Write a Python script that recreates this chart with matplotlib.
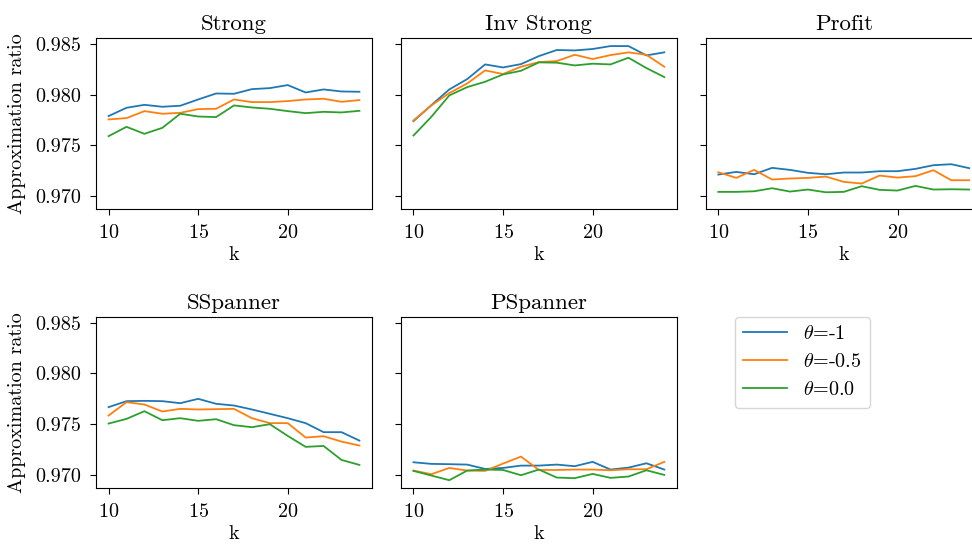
import numpy as np
import matplotlib
matplotlib.use('Agg')
import matplotlib.pyplot as plt

plt.rcParams['font.family'] = 'serif'
plt.rcParams['font.serif'] = ['cmr10']
plt.rcParams['mathtext.fontset'] = 'cm'
plt.rcParams['axes.formatter.use_mathtext'] = True
plt.rcParams['font.size'] = 14.5
plt.rcParams['xtick.major.pad'] = 6.5
plt.rcParams['ytick.major.pad'] = 6.5
plt.rcParams['xtick.major.size'] = 4
plt.rcParams['ytick.major.size'] = 4

k = list(range(10, 25))
thetas = ['-1', '-0.5', '0.0']
colors = ['#1f77b4', '#ff7f0e', '#2ca02c']
titles = ['Strong', 'Inv Strong', 'Profit', 'SSpanner', 'PSpanner']

# one list per theta (-1, -0.5, 0.0)
strong = [
    [0.97789, 0.97871, 0.97900, 0.97881, 0.97891, 0.97953, 0.98012, 0.98009,
     0.98055, 0.98065, 0.98095, 0.98022, 0.98052, 0.98032, 0.98029],
    [0.97756, 0.97769, 0.97838, 0.97812, 0.97821, 0.97858, 0.97861, 0.97953,
     0.97927, 0.97927, 0.97937, 0.97953, 0.97960, 0.97930, 0.97947],
    [0.97591, 0.97683, 0.97614, 0.97673, 0.97812, 0.97785, 0.97779, 0.97894,
     0.97874, 0.97861, 0.97838, 0.97818, 0.97831, 0.97825, 0.97841],
]
inv_strong = [
    [0.97739, 0.97897, 0.98052, 0.98154, 0.98299, 0.98269, 0.98302, 0.98381,
     0.98441, 0.98437, 0.98451, 0.98480, 0.98480, 0.98388, 0.98418],
    [0.97746, 0.97894, 0.98016, 0.98111, 0.98240, 0.98204, 0.98276, 0.98322,
     0.98332, 0.98394, 0.98352, 0.98391, 0.98418, 0.98394, 0.98276],
    [0.97597, 0.97782, 0.97993, 0.98075, 0.98128, 0.98200, 0.98236, 0.98319,
     0.98316, 0.98289, 0.98306, 0.98299, 0.98365, 0.98263, 0.98174],
]
profit = [
    [0.97212, 0.97238, 0.97215, 0.97278, 0.97258, 0.97229, 0.97215, 0.97232,
     0.97232, 0.97245, 0.97245, 0.97268, 0.97304, 0.97314, 0.97275],
    [0.97235, 0.97179, 0.97258, 0.97163, 0.97173, 0.97179, 0.97192, 0.97140,
     0.97123, 0.97202, 0.97182, 0.97196, 0.97255, 0.97156, 0.97156],
    [0.97041, 0.97041, 0.97047, 0.97077, 0.97044, 0.97064, 0.97037, 0.97041,
     0.97097, 0.97061, 0.97054, 0.97100, 0.97064, 0.97067, 0.97064],
]
sspanner = [
    [0.97667, 0.97726, 0.97729, 0.97726, 0.97706, 0.97749, 0.97700, 0.97683,
     0.97644, 0.97601, 0.97558, 0.97509, 0.97420, 0.97420, 0.97337],
    [0.97584, 0.97716, 0.97693, 0.97624, 0.97650, 0.97644, 0.97647, 0.97650,
     0.97558, 0.97509, 0.97509, 0.97367, 0.97380, 0.97327, 0.97288],
    [0.97505, 0.97551, 0.97627, 0.97538, 0.97558, 0.97532, 0.97548, 0.97489,
     0.97469, 0.97499, 0.97383, 0.97275, 0.97284, 0.97146, 0.97097],
]
pspanner = [
    [0.97123, 0.97107, 0.97104, 0.97100, 0.97057, 0.97067, 0.97090, 0.97090,
     0.97100, 0.97084, 0.97127, 0.97051, 0.97070, 0.97113, 0.97051],
    [0.97041, 0.97005, 0.97067, 0.97041, 0.97038, 0.97110, 0.97179, 0.97047,
     0.97047, 0.97051, 0.97051, 0.97044, 0.97054, 0.97054, 0.97127],
    [0.97038, 0.96992, 0.96946, 0.97041, 0.97051, 0.97047, 0.96995, 0.97051,
     0.96972, 0.96966, 0.97008, 0.96969, 0.96982, 0.97044, 0.96998],
]

datasets = [strong, inv_strong, profit, sspanner, pspanner]

fig, axes = plt.subplots(2, 3, figsize=(9.72, 5.44), dpi=100, sharey=True)
plt.subplots_adjust(left=0.0988, right=1.01, top=0.9296, bottom=0.103,
                    wspace=0.105, hspace=0.63)

flat = axes.flatten()
for i, (title, data) in enumerate(zip(titles, datasets)):
    ax = flat[i]
    for series, th, c in zip(data, thetas, colors):
        ax.plot(k, series, color=c, lw=1.3, label=r'$\theta$=' + th)
    ax.set_title(title, fontsize=16.5)
    ax.set_xlabel('k', labelpad=3)
    ax.set_xticks([10, 15, 20])
    if i % 3 == 0:
        ax.set_ylabel('Approximation ratio', labelpad=7)

flat[0].set_yticks([0.970, 0.975, 0.980, 0.985])
flat[0].yaxis.set_major_formatter(matplotlib.ticker.FormatStrFormatter('%.3f'))

flat[5].axis('off')
handles, labels = flat[0].get_legend_handles_labels()
fig.legend(handles, labels, loc='upper left', bbox_to_anchor=(735 / 972, 1 - 317 / 544),
           fontsize=14.5, borderaxespad=0, handlelength=2.2)

plt.savefig('out.png', dpi=100)
